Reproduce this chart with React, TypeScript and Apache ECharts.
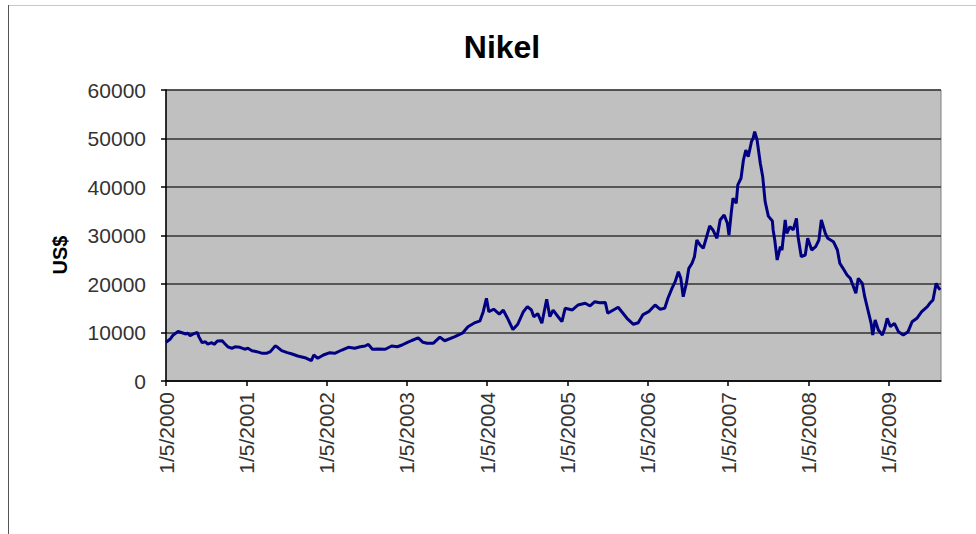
import React, { useEffect, useRef } from "react";
import * as echarts from "echarts";

// time as decimal years counted from 1/5/2000 (2000.00 = 1/5/2000)
const years: number[] = [
  2000.0, 2000.05, 2000.09, 2000.15, 2000.2, 2000.24, 2000.27, 2000.3, 2000.34, 2000.39,
  2000.41, 2000.45, 2000.49, 2000.52, 2000.57, 2000.6, 2000.64, 2000.7, 2000.73, 2000.77,
  2000.82, 2000.86, 2000.92, 2000.98, 2001.02, 2001.07, 2001.13, 2001.2, 2001.25, 2001.3,
  2001.36, 2001.39, 2001.44, 2001.51, 2001.57, 2001.64, 2001.73, 2001.81, 2001.84, 2001.89,
  2001.96, 2002.04, 2002.1, 2002.19, 2002.27, 2002.35, 2002.42, 2002.48, 2002.52, 2002.57,
  2002.64, 2002.73, 2002.81, 2002.88, 2002.94, 2003.0, 2003.06, 2003.14, 2003.2, 2003.25,
  2003.33, 2003.41, 2003.47, 2003.59, 2003.69, 2003.76, 2003.85, 2003.91, 2003.95, 2003.99,
  2004.02, 2004.08, 2004.15, 2004.2, 2004.26, 2004.32, 2004.38, 2004.45, 2004.5, 2004.55,
  2004.58, 2004.63, 2004.68, 2004.74, 2004.78, 2004.82, 2004.88, 2004.93, 2004.97, 2005.06,
  2005.13, 2005.22, 2005.28, 2005.34, 2005.4, 2005.47, 2005.5, 2005.57, 2005.63, 2005.69,
  2005.74, 2005.82, 2005.88, 2005.94, 2006.01, 2006.09, 2006.15, 2006.21, 2006.25, 2006.3,
  2006.34, 2006.38, 2006.41, 2006.44, 2006.48, 2006.51, 2006.55, 2006.58, 2006.61, 2006.65,
  2006.69, 2006.72, 2006.77, 2006.81, 2006.86, 2006.9, 2006.95, 2006.99, 2007.01, 2007.04,
  2007.06, 2007.1, 2007.12, 2007.16, 2007.19, 2007.22, 2007.25, 2007.29, 2007.31, 2007.33,
  2007.36, 2007.4, 2007.43, 2007.46, 2007.5, 2007.55, 2007.56, 2007.58, 2007.61, 2007.65,
  2007.67, 2007.71, 2007.73, 2007.77, 2007.81, 2007.85, 2007.87, 2007.91, 2007.96, 2007.99,
  2008.04, 2008.09, 2008.13, 2008.16, 2008.21, 2008.24, 2008.31, 2008.36, 2008.39, 2008.43,
  2008.48, 2008.52, 2008.56, 2008.59, 2008.62, 2008.67, 2008.7, 2008.74, 2008.78, 2008.8,
  2008.83, 2008.87, 2008.92, 2008.95, 2008.98, 2009.02, 2009.07, 2009.12, 2009.18, 2009.24,
  2009.29, 2009.35, 2009.41, 2009.48, 2009.51, 2009.55, 2009.59, 2009.61, 2009.64,
];

// nickel price, US$
const prices: number[] = [
  8000, 8600, 9500, 10200, 9950, 9700, 9850, 9350, 9700, 10000,
  9100, 7900, 8100, 7600, 7900, 7550, 8250, 8300, 7750, 7050,
  6750, 7050, 6950, 6550, 6750, 6250, 6050, 5700, 5700, 6050,
  7250, 6950, 6250, 5850, 5570, 5160, 4800, 4190, 5360, 4680,
  5360, 5840, 5710, 6390, 6950, 6740, 7070, 7220, 7560, 6540,
  6600, 6540, 7220, 7070, 7420, 7900, 8350, 8900, 7980, 7800,
  7800, 9050, 8300, 9100, 9850, 11200, 12050, 12400, 14300, 17050,
  14300, 14800, 13800, 14600, 12700, 10600, 11700, 14290, 15330, 14640,
  13260, 13900, 11900, 16850, 13260, 14600, 13300, 12230, 14990, 14640,
  15670, 16020, 15470, 16350, 16150, 16200, 13960, 14640, 15200, 13960,
  12930, 11690, 12000, 13700, 14290, 15670, 14800, 14990, 17050, 19110,
  20480, 22540, 21170, 17380, 20140, 23230, 24270, 25630, 29070, 28040,
  27360, 29070, 31960, 31140, 29420, 33200, 34230, 32510, 30100, 34910,
  37670, 36640, 40420, 41800, 45570, 47630, 46250, 49340, 50030, 51410,
  49700, 44890, 42130, 37000, 34000, 33000, 31140, 29070, 24950, 27700,
  27010, 33200, 30450, 31820, 31140, 33550, 29750, 25630, 25980, 29420,
  27010, 27700, 29070, 33200, 30450, 29420, 28720, 27010, 24270, 23230,
  21850, 21170, 19440, 18080, 21170, 20140, 17380, 14640, 11900, 9490,
  12580, 10520, 9490, 10870, 12930, 11200, 11900, 10170, 9490, 10170,
  12230, 12930, 14290, 15330, 16020, 16700, 20140, 19440, 18800,
];

const tickYears: number[] = [2000, 2001, 2002, 2003, 2004, 2005, 2006, 2007, 2008, 2009];
const lastYear = 2009.65;

const title = "Nikel";
const yName = "US$";

export default function App() {
  const ref = useRef<HTMLDivElement>(null);

  useEffect(() => {
    if (!ref.current) return;
    const chart = echarts.init(ref.current, null, { renderer: "svg" });
    const font = "'Liberation Sans', Arial, sans-serif";
    chart.setOption({
      animation: false,
      backgroundColor: "#ffffff",
      textStyle: { fontFamily: font },
      title: {
        text: title,
        left: 497,
        textAlign: "center",
        top: 26,
        textStyle: { fontFamily: font, fontSize: 32, fontWeight: "bold", color: "#000" },
      },
      graphic: [
        { type: "line", shape: { x1: 8, y1: 5.5, x2: 976, y2: 5.5 }, style: { stroke: "#c8c8c8", lineWidth: 1 } },
        { type: "line", shape: { x1: 8.5, y1: 5, x2: 8.5, y2: 534 }, style: { stroke: "#555", lineWidth: 1 } },
        {
          type: "text",
          x: 60,
          y: 255,
          rotation: Math.PI / 2,
          style: {
            text: yName,
            fontFamily: font,
            fontSize: 20,
            fontWeight: "bold",
            fill: "#000",
            align: "center",
            verticalAlign: "middle",
          },
        },
      ],
      grid: {
        left: 166,
        right: 35,
        top: 90,
        bottom: 153,
        show: true,
        backgroundColor: "#c0c0c0",
        borderColor: "#808080",
        borderWidth: 1,
        outerBoundsMode: "none",
      },
      xAxis: {
        type: "value",
        min: 2000,
        max: lastYear,
        interval: 1,
        axisLine: { show: true, onZero: false, lineStyle: { color: "#000", width: 1.5 } },
        axisTick: { show: true, length: 5, customValues: tickYears, lineStyle: { color: "#000", width: 1.5 } },
        axisLabel: {
          rotate: 90,
          margin: 11,
          fontSize: 21,
          color: "#333",
          customValues: tickYears,
          formatter: (v: number) => (Number.isInteger(v) ? `1/5/${v}` : ""),
        },
        splitLine: { show: false },
      },
      yAxis: {
        type: "value",
        min: 0,
        max: 60000,
        interval: 10000,
        axisLine: { show: true, lineStyle: { color: "#000", width: 1.5 } },
        axisTick: { show: true, length: 5, lineStyle: { color: "#000", width: 1.5 } },
        axisLabel: { margin: 20, fontSize: 21, color: "#333", formatter: (v: number) => String(v) },
        splitLine: { show: true, lineStyle: { color: "#333", width: 1.5 } },
      },
      series: [
        {
          type: "line",
          data: years.map((y, i) => [y, prices[i]]),
          showSymbol: false,
          symbol: "none",
          lineStyle: { color: "#000080", width: 3 },
        },
      ],
    });
    return () => chart.dispose();
  }, []);

  return (
    <div
      ref={ref}
      style={{ position: "absolute", left: 0, top: 0, width: 976, height: 534 }}
    />
  );
}
